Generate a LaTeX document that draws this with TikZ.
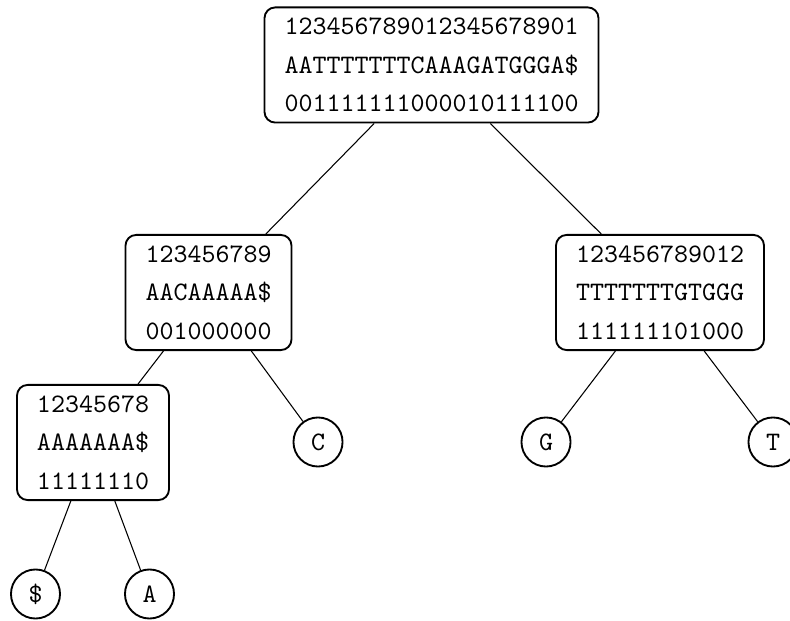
\documentclass[tikz,border=0pt]{standalone}
\begin{document}
\begin{tikzpicture}[x=0.375pt,y=-0.375pt,
  box/.style={draw,rounded corners=4pt,line width=0.7pt,align=center,
    font=\ttfamily,inner xsep=7.5pt,inner ysep=4pt},
  leaf/.style={draw,circle,line width=0.7pt,font=\ttfamily,inner sep=0pt,minimum size=18.4pt},
  edge/.style={line width=0.4pt}]
\useasboundingbox (0,0) rectangle (790,621);
\node[box] (top) at (431.5,65) {123456789012345678901\\[2.4pt]AATTTTTTTCAAAGATGGGA\$\\[2.4pt]001111111000010111100};
\node[box] (lm) at (208.5,292.5) {123456789\\[2.4pt]AACAAAAA\$\\[2.4pt]001000000};
\node[box] (rm) at (660,292.5) {123456789012\\[2.4pt]TTTTTTTGTGGG\\[2.4pt]111111101000};
\node[box] (ll) at (93,442.5) {12345678\\[2.4pt]AAAAAAA\$\\[2.4pt]11111110};
\node[leaf] (c) at (318,442) {C};
\node[leaf] (g) at (546,442) {G};
\node[leaf] (t) at (773,442) {T};
\node[leaf] (d) at (35.5,594) {\$};
\node[leaf] (a) at (149.5,594) {A};
\draw[edge] (top) -- (lm);
\draw[edge] (top) -- (rm);
\draw[edge] (lm) -- (ll);
\draw[edge] (lm) -- (c);
\draw[edge] (rm) -- (g);
\draw[edge] (rm) -- (t);
\draw[edge] (ll) -- (d);
\draw[edge] (ll) -- (a);
\end{tikzpicture}
\end{document}
